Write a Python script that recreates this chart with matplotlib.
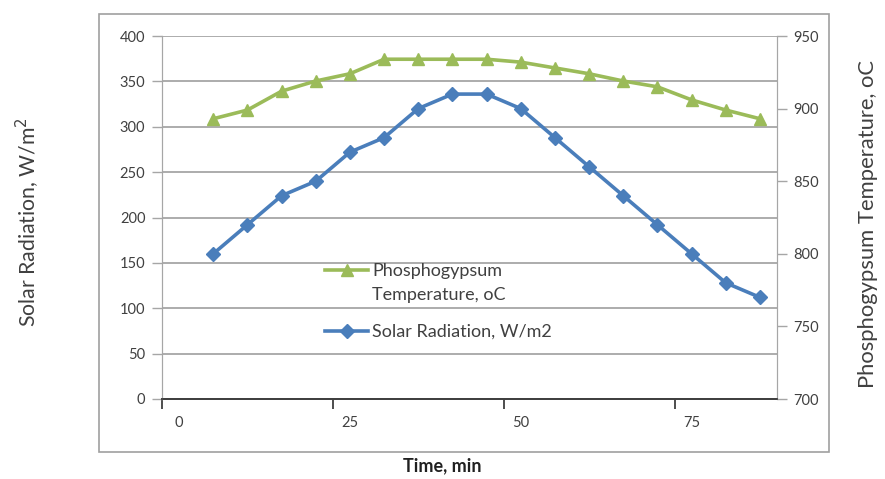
import matplotlib
matplotlib.use("Agg")
import matplotlib.pyplot as plt
from matplotlib.lines import Line2D
from matplotlib.patches import Rectangle

plt.rcParams['font.family'] = ['Lato', 'DejaVu Sans']

# data
time_min = [5, 10, 15, 20, 25, 30, 35, 40, 45, 50, 55, 60, 65, 70, 75, 80, 85]
solar = [160, 192, 224, 240, 272, 288, 320, 336, 336, 320, 288, 256, 224, 192, 160, 128, 112]
temp = [893, 899, 912, 919, 924, 934, 934, 934, 934, 932, 928, 924, 919, 915, 906, 899, 893]

x_ticks = [0, 25, 50, 75]
x_tick_marks = [-2.5, 22.5, 47.5, 72.5]
left_ticks = [0, 50, 100, 150, 200, 250, 300, 350, 400]
right_ticks = [700, 750, 800, 850, 900, 950]

blue = '#4a7ebb'
green = '#9bbb59'
grid_c = '#a6a6a6'
txt_c = '#404040'

fig = plt.figure(figsize=(8.85, 4.79), dpi=100)
fig.patches.append(Rectangle((99 / 885, 27 / 479), 730 / 885, 438 / 479,
                             transform=fig.transFigure, fill=False,
                             edgecolor='#a0a0a0', linewidth=1.2))

ax = fig.add_axes([162 / 885, 80 / 479, 615 / 885, 363 / 479])
ax2 = ax.twinx()

ax.set_xlim(-2.5, 87.5)
ax.set_ylim(0, 400)
ax2.set_ylim(700, 950)

ax.set_yticks(left_ticks)
ax2.set_yticks(right_ticks)
ax.set_xticks(x_ticks)
ax.set_xticks(x_tick_marks, minor=True)
ax.tick_params(axis='x', which='major', length=0, pad=12, labelsize=10.5, labelcolor=txt_c)
ax.tick_params(axis='x', which='minor', length=7, width=1.3, color='#404040', direction='out')
ax.tick_params(axis='y', length=7, width=1, color=grid_c, labelsize=10.5, labelcolor=txt_c, pad=5)
ax2.tick_params(axis='y', length=7, width=1, color=grid_c, labelsize=10.5, labelcolor=txt_c, pad=5)

ax.grid(axis='y', color=grid_c, linewidth=1.3)
ax.set_axisbelow(True)
for a in (ax, ax2):
    a.spines['top'].set_visible(False)
    a.spines['left'].set_color(grid_c)
    a.spines['right'].set_color(grid_c)
    a.spines['bottom'].set_color('#404040')
    a.spines['bottom'].set_linewidth(1.3)

ln_b, = ax.plot(time_min, solar, color=blue, linewidth=2.6, marker='D',
                markersize=7.5, label='Solar Radiation, W/m2')
ln_g, = ax2.plot(time_min, temp, color=green, linewidth=2.6, marker='^',
                 markersize=9, label='Phosphogypsum Temperature, oC')

blank = Line2D([], [], linestyle='none')
leg1 = ax2.legend([ln_g, blank], ['Phosphogypsum', 'Temperature, oC'],
                  loc='upper left', bbox_to_anchor=(0.265, 0.374), frameon=False,
                  fontsize=13, handlelength=2.4, handletextpad=0.2,
                  borderpad=0, borderaxespad=0, labelspacing=0.45, labelcolor=txt_c)
ax2.add_artist(leg1)
ax2.legend([ln_b], ['Solar Radiation, W/m2'],
           loc='upper left', bbox_to_anchor=(0.265, 0.207), frameon=False,
           fontsize=13, handlelength=2.4, handletextpad=0.2,
           borderpad=0, borderaxespad=0, labelcolor=txt_c)

fig.text(28 / 885, 1 - 222 / 479, 'Solar Radiation, W/m$^2$', rotation=90,
         ha='center', va='center', fontsize=15.3, color=txt_c)
fig.text(868 / 885, 1 - 224 / 479, 'Phosphogypsum Temperature, oC', rotation=90,
         ha='center', va='center', fontsize=15.8, color=txt_c)
fig.text(442 / 885, 1 - 466 / 479, 'Time, min', ha='center', va='center',
         fontsize=13, fontweight='bold', color='#202020')

fig.savefig('out.png', dpi=100)
